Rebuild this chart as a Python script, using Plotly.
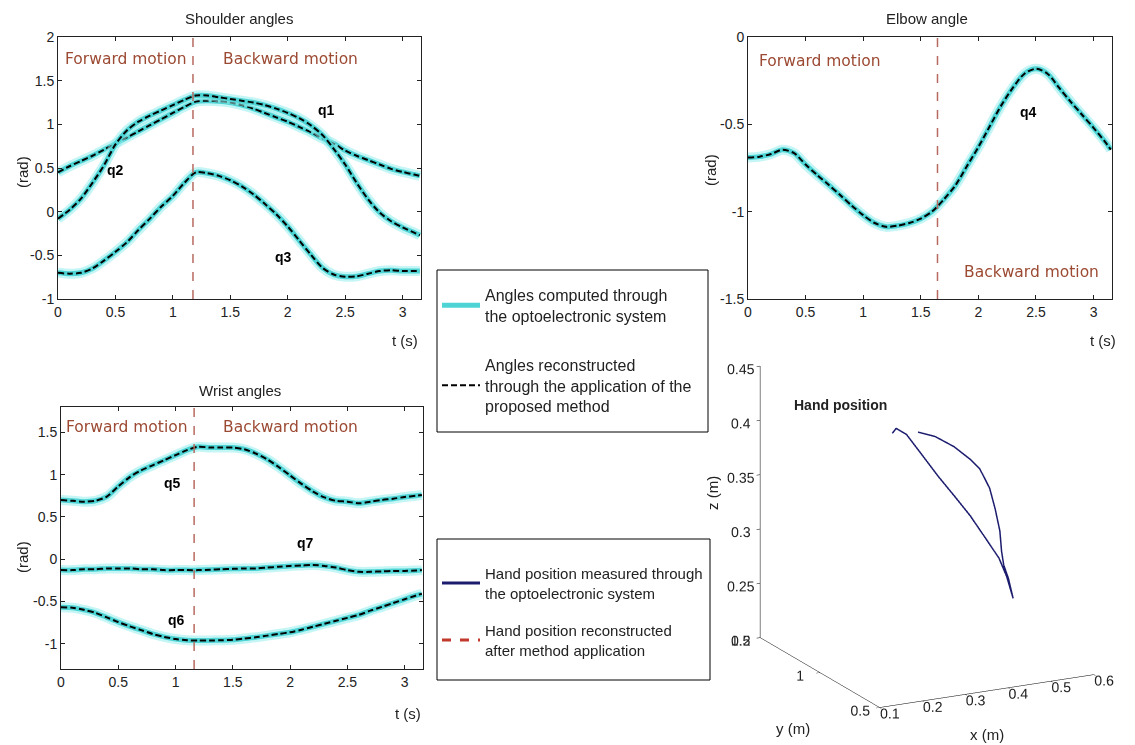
import plotly.graph_objects as go

# ---------------- data ----------------
T = [0.0, 0.1, 0.2, 0.3, 0.4, 0.5, 0.6, 0.7, 0.8, 0.9, 1.0, 1.1, 1.2, 1.3, 1.4, 1.5,
     1.6, 1.7, 1.8, 1.9, 2.0, 2.1, 2.2, 2.3, 2.4, 2.5, 2.6, 2.7, 2.8, 2.9, 3.0, 3.1, 3.15]

# shoulder angles (rad)
q1 = [0.45, 0.52, 0.58, 0.64, 0.71, 0.78, 0.85, 0.92, 0.99, 1.06, 1.13, 1.20, 1.26, 1.27, 1.265, 1.25,
      1.22, 1.18, 1.13, 1.08, 1.03, 0.97, 0.91, 0.84, 0.78, 0.70, 0.64, 0.59, 0.54, 0.49, 0.455, 0.425, 0.41]
q2 = [-0.08, 0.02, 0.15, 0.33, 0.53, 0.77, 0.93, 1.03, 1.10, 1.16, 1.22, 1.28, 1.33, 1.33, 1.31, 1.29,
      1.27, 1.25, 1.22, 1.18, 1.13, 1.07, 0.99, 0.88, 0.72, 0.54, 0.33, 0.14, -0.01, -0.11, -0.18, -0.24, -0.27]
q3 = [-0.70, -0.71, -0.70, -0.65, -0.56, -0.46, -0.35, -0.21, -0.08, 0.06, 0.18, 0.33, 0.45, 0.44, 0.41, 0.36,
      0.29, 0.20, 0.09, -0.03, -0.17, -0.33, -0.49, -0.64, -0.72, -0.745, -0.74, -0.71, -0.68, -0.67, -0.68, -0.68, -0.68]
# elbow angle (rad)
q4 = [-0.69, -0.685, -0.67, -0.645, -0.665, -0.73, -0.79, -0.846, -0.905, -0.965, -1.02, -1.065, -1.087, -1.08, -1.065, -1.04,
      -0.998, -0.93, -0.85, -0.74, -0.63, -0.51, -0.39, -0.29, -0.21, -0.182, -0.21, -0.29, -0.37, -0.445, -0.52, -0.6, -0.645]
# wrist angles (rad)
q5 = [0.70, 0.69, 0.68, 0.69, 0.74, 0.86, 0.97, 1.05, 1.11, 1.17, 1.23, 1.29, 1.33, 1.32, 1.32, 1.32,
      1.30, 1.25, 1.18, 1.09, 0.99, 0.89, 0.80, 0.73, 0.69, 0.68, 0.66, 0.68, 0.70, 0.715, 0.735, 0.75, 0.76]
q6 = [-0.57, -0.575, -0.60, -0.635, -0.69, -0.745, -0.795, -0.84, -0.885, -0.92, -0.945, -0.96, -0.962, -0.962, -0.96, -0.955,
      -0.94, -0.925, -0.905, -0.885, -0.865, -0.835, -0.80, -0.765, -0.73, -0.695, -0.66, -0.61, -0.565, -0.52, -0.475, -0.43, -0.41]
q7 = [-0.13, -0.13, -0.12, -0.12, -0.11, -0.11, -0.11, -0.12, -0.12, -0.13, -0.13, -0.13, -0.13, -0.125, -0.12, -0.115,
      -0.11, -0.11, -0.10, -0.09, -0.08, -0.075, -0.07, -0.08, -0.10, -0.13, -0.15, -0.15, -0.145, -0.14, -0.14, -0.135, -0.13]

# end of forward motion (s) in each panel
switch_shoulder = 1.175
switch_elbow = 1.645
switch_wrist = 1.162

# hand position (m)
hand_x = [0.329, 0.369, 0.413, 0.451, 0.473, 0.496, 0.509, 0.520, 0.524, 0.529, 0.540, 0.551,
          0.536, 0.518, 0.487, 0.451, 0.413, 0.376, 0.340, 0.302, 0.278, 0.269]
hand_y = [1.0, 1.0, 1.0, 1.0, 1.0, 1.0, 1.0, 1.0, 1.0, 1.0, 1.0, 1.0,
          1.0, 1.0, 1.0, 1.0, 1.0, 1.0, 1.0, 1.0, 1.0, 1.0]
hand_z = [0.4075, 0.401, 0.389, 0.375, 0.365, 0.346, 0.326, 0.305, 0.286, 0.273, 0.260, 0.241,
          0.262, 0.280, 0.300, 0.323, 0.344, 0.364, 0.385, 0.407, 0.414, 0.410]

t_ticks = [0, 0.5, 1, 1.5, 2, 2.5, 3]
t_ticktext = ["0", "0.5", "1", "1.5", "2", "2.5", "3"]

# ---------------- style ----------------
W, H = 1135, 745
NARROW = "Liberation Sans Narrow, Arial Narrow, Liberation Sans, Arial, sans-serif"
TXT = "#222222"
CYAN = "rgb(78,212,212)"
GLOW = "rgba(150,236,236,0.55)"
BROWN = "#9c4a33"
VLINE = "#b86a60"

LEG1_A = "Angles computed through<br>the optoelectronic system"
LEG1_B = "Angles reconstructed<br>through the application of the<br>proposed method"
LEG2_A = "Hand position measured through<br>the optoelectronic system"
LEG2_B = "Hand position reconstructed<br>after method application"


def px(xp):
    return xp / W


def py(yp):
    return 1 - yp / H


fig = go.Figure()

first = [True]


def add_angle(y, xa, ya):
    fig.add_trace(go.Scatter(x=T, y=y, xaxis=xa, yaxis=ya, mode="lines",
                             line=dict(color=GLOW, width=10, shape="spline", smoothing=0.8),
                             showlegend=False, hoverinfo="skip"))
    fig.add_trace(go.Scatter(x=T, y=y, xaxis=xa, yaxis=ya, mode="lines",
                             line=dict(color=CYAN, width=5, shape="spline", smoothing=0.8),
                             name=LEG1_A, legend="legend", legendgroup="a", legendrank=1,
                             showlegend=first[0]))
    fig.add_trace(go.Scatter(x=T, y=y, xaxis=xa, yaxis=ya, mode="lines",
                             line=dict(color="black", width=2, dash="6px,3px", shape="spline", smoothing=0.8),
                             name=LEG1_B, legend="legend", legendgroup="b", legendrank=2,
                             showlegend=first[0]))
    first[0] = False


for q in (q1, q2, q3):
    add_angle(q, "x", "y")
add_angle(q4, "x2", "y2")
for q in (q5, q7, q6):
    add_angle(q, "x3", "y3")

# hand position 3D
fig.add_trace(go.Scatter3d(x=hand_x, y=hand_y, z=hand_z, mode="lines",
                           line=dict(color="#c0392b", width=3, dash="dash"),
                           name=LEG2_B, legend="legend2", legendgroup="d", legendrank=2, scene="scene"))
fig.add_trace(go.Scatter3d(x=hand_x, y=hand_y, z=hand_z, mode="lines",
                           line=dict(color="#1c1c6e", width=3),
                           name=LEG2_A, legend="legend2", legendgroup="c", legendrank=1, scene="scene"))

axis_common = dict(showline=True, linecolor=TXT, linewidth=1, mirror="ticks", ticks="inside",
                   ticklen=4, tickcolor=TXT, showgrid=False, zeroline=False, automargin=False,
                   tickfont=dict(family=NARROW, size=14, color=TXT))

xcommon = dict(axis_common, range=[0, 3.16], tickvals=t_ticks, ticktext=t_ticktext)

fig.update_layout(
    width=W, height=H, margin=dict(l=0, r=0, t=0, b=0, pad=0, autoexpand=False),
    paper_bgcolor="white", plot_bgcolor="white",
    xaxis=dict(xcommon, domain=[px(58), px(421)], anchor="y"),
    yaxis=dict(axis_common, domain=[py(299), py(37)], anchor="x", range=[-1, 2],
               tickvals=[-1, -0.5, 0, 0.5, 1, 1.5, 2],
               ticktext=["-1", "-0.5", "0", "0.5", "1", "1.5", "2"]),
    xaxis2=dict(xcommon, domain=[px(748), px(1112)], anchor="y2"),
    yaxis2=dict(axis_common, domain=[py(299), py(37)], anchor="x2", range=[-1.5, 0],
                tickvals=[-1.5, -1, -0.5, 0], ticktext=["-1.5", "-1", "-0.5", "0"]),
    xaxis3=dict(xcommon, domain=[px(61), px(423)], anchor="y3"),
    yaxis3=dict(axis_common, domain=[py(669), py(407)], anchor="x3", range=[-1.3, 1.8],
                tickvals=[-1, -0.5, 0, 0.5, 1, 1.5], ticktext=["-1", "-0.5", "0", "0.5", "1", "1.5"]),
    legend=dict(x=px(437), y=py(278), xanchor="left", yanchor="top", borderwidth=0,
                bgcolor="rgba(0,0,0,0)", font=dict(family=NARROW, size=16, color=TXT),
                tracegroupgap=25, traceorder="grouped", itemwidth=38),
    legend2=dict(x=px(437), y=py(557), xanchor="left", yanchor="top", borderwidth=0,
                 bgcolor="rgba(0,0,0,0)", font=dict(family=NARROW, size=15, color=TXT),
                 tracegroupgap=15, traceorder="grouped", itemwidth=38),
    scene=dict(
        domain=dict(x=[px(700), 1.0], y=[0.0, py(330)]),
        bgcolor="rgba(0,0,0,0)",
        aspectmode="manual", aspectratio=dict(x=1.16, y=1.262, z=1.372),
        camera=dict(eye=dict(x=-0.648, y=-1.164, z=0.332), up=dict(x=0, y=0, z=1),
                    center=dict(x=-0.052, y=-0.001, z=-0.079), projection=dict(type="orthographic")),
        xaxis=dict(range=[0.1, 0.6], tickvals=[0.1, 0.2, 0.3, 0.4, 0.5, 0.6],
                   ticktext=["0.1", "0.2", "0.3", "0.4", "0.5", "0.6"]),
        yaxis=dict(range=[0.5, 1.5], tickvals=[0.5, 1, 1.5], ticktext=["0.5", "1", "1.5"]),
        zaxis=dict(range=[0.2, 0.45], tickvals=[0.2, 0.25, 0.3, 0.35, 0.4, 0.45],
                   ticktext=["0.2", "0.25", "0.3", "0.35", "0.4", "0.45"]),
    ),
)

for ax in ("xaxis", "yaxis", "zaxis"):
    fig.layout.scene[ax].update(showbackground=False, showgrid=False, zeroline=False, showline=True,
                                linecolor="black", linewidth=1, ticks="outside", tickcolor="black",
                                ticklen=4, showspikes=False, tickangle=0, title=dict(text=""),
                                tickfont=dict(family=NARROW, size=13, color=TXT))

# vertical separators
for xa, xv in (("x", switch_shoulder), ("x2", switch_elbow), ("x3", switch_wrist)):
    fig.add_shape(type="line", xref=xa, yref=xa.replace("x", "y") + " domain", x0=xv, x1=xv, y0=0, y1=1,
                  line=dict(color=VLINE, width=1.5, dash="dash"))

# legend frames
for (x0, y0, x1, y1) in ((437, 270, 708, 432), (437, 539, 710, 680)):
    fig.add_shape(type="rect", xref="paper", yref="paper", x0=px(x0), x1=px(x1), y0=py(y1), y1=py(y0),
                  line=dict(color="black", width=1), fillcolor="rgba(0,0,0,0)")

ann = []


def text(x, y, s, size=15, color=TXT, family=NARROW, xref="paper", yref="paper", angle=0):
    ann.append(dict(x=x, y=y, xref=xref, yref=yref, text=s, showarrow=False, textangle=angle,
                    font=dict(family=family, size=size, color=color), xanchor="center", yanchor="middle"))


# titles
text(px(239), py(18), "Shoulder angles", 15)
text(px(927), py(18), "Elbow angle", 15)
text(px(240), py(390), "Wrist angles", 15)
text(px(840), py(405), "<b>Hand position</b>", 14)
# axis labels
text(px(405), py(340), "t (s)", 15)
text(px(1103), py(340), "t (s)", 15)
text(px(408), py(713), "t (s)", 15)
text(px(22), py(172), "(rad)", 15, angle=-90)
text(px(710), py(170), "(rad)", 15, angle=-90)
text(px(22), py(557), "(rad)", 15, angle=-90)
text(px(987), py(734), "x (m)", 15)
text(px(793), py(728), "y (m)", 15)
text(px(712), py(493), "z (m)", 15, angle=-90)
# motion phases
MF = "DejaVu Sans, Verdana, sans-serif"
text(0.59, 1.75, "Forward motion", 15.5, BROWN, MF, "x", "y")
text(2.02, 1.75, "Backward motion", 15.5, BROWN, MF, "x", "y")
text(0.626, -0.14, "Forward motion", 15.5, BROWN, MF, "x2", "y2")
text(2.46, -1.345, "Backward motion", 15.5, BROWN, MF, "x2", "y2")
text(0.575, 1.563, "Forward motion", 15.5, BROWN, MF, "x3", "y3")
text(2.005, 1.563, "Backward motion", 15.5, BROWN, MF, "x3", "y3")
# curve labels
text(2.34, 1.16, "<b>q1</b>", 14, "black", NARROW, "x", "y")
text(0.50, 0.48, "<b>q2</b>", 14, "black", NARROW, "x", "y")
text(1.96, -0.52, "<b>q3</b>", 14, "black", NARROW, "x", "y")
text(2.435, -0.43, "<b>q4</b>", 14, "black", NARROW, "x2", "y2")
text(0.97, 0.90, "<b>q5</b>", 14, "black", NARROW, "x3", "y3")
text(1.01, -0.72, "<b>q6</b>", 14, "black", NARROW, "x3", "y3")
text(2.13, 0.19, "<b>q7</b>", 14, "black", NARROW, "x3", "y3")

fig.update_layout(annotations=ann)

fig.write_html("out.html", config={"displayModeBar": False},
               post_script="document.body.style.margin='0px';")
